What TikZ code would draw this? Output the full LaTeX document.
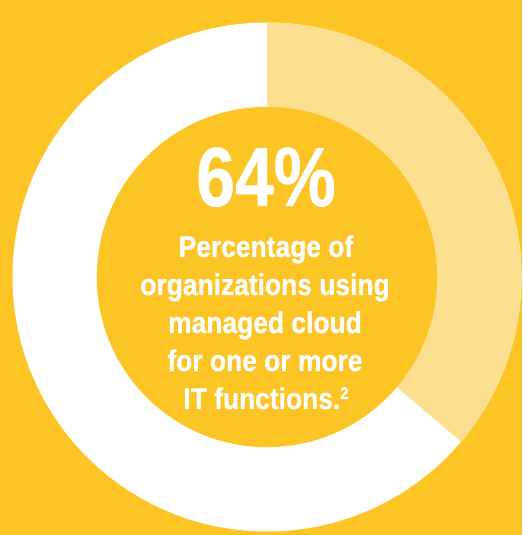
\documentclass[tikz,border=0pt]{standalone}
\usepackage{fontspec}
\newfontfamily\numfont{Liberation Sans}[FakeStretch=0.83,FakeBold=0.6]
\newfontfamily\txtfont{Liberation Sans}[FakeStretch=0.88,FakeBold=0.6]
\definecolor{bgyellow}{HTML}{FDC425}
\definecolor{lightyellow}{HTML}{FDE08F}
\tikzset{
  ring/.style={fill=white},
  share/.style={fill=lightyellow},
  hole/.style={fill=bgyellow},
  bignum/.style={text=white, font=\numfont\bfseries\fontsize{84}{84}\selectfont, anchor=base, inner sep=0pt},
  caption/.style={text=white, font=\txtfont\bfseries\fontsize{30}{30}\selectfont, anchor=base, inner sep=0pt}
}
\begin{document}
\begin{tikzpicture}[x=1pt,y=1pt]
\fill[bgyellow] (0,0) rectangle (522,535);
\useasboundingbox (0,0) rectangle (522,535);
\coordinate (c) at (267,258);
\fill[ring] (c) circle[radius=254.5];
\fill[share] (c) -- ++(90:254.5) arc[start angle=90, end angle=-40.3, radius=254.5] -- cycle;
\fill[hole] (c) circle[radius=170.2];
\node[bignum] (pct) at (266,329) {64\%};
\node[caption] (l1) at (266,278) {Percentage of};
\node[caption] (l2) at (265,240) {organizations using};
\node[caption] (l3) at (265,202) {managed cloud};
\node[caption] (l4) at (265,164) {for one or more};
\node[caption] (l5) at (266,126) {IT functions.\raisebox{10pt}{\fontsize{17}{17}\selectfont 2}};
\end{tikzpicture}
\end{document}
